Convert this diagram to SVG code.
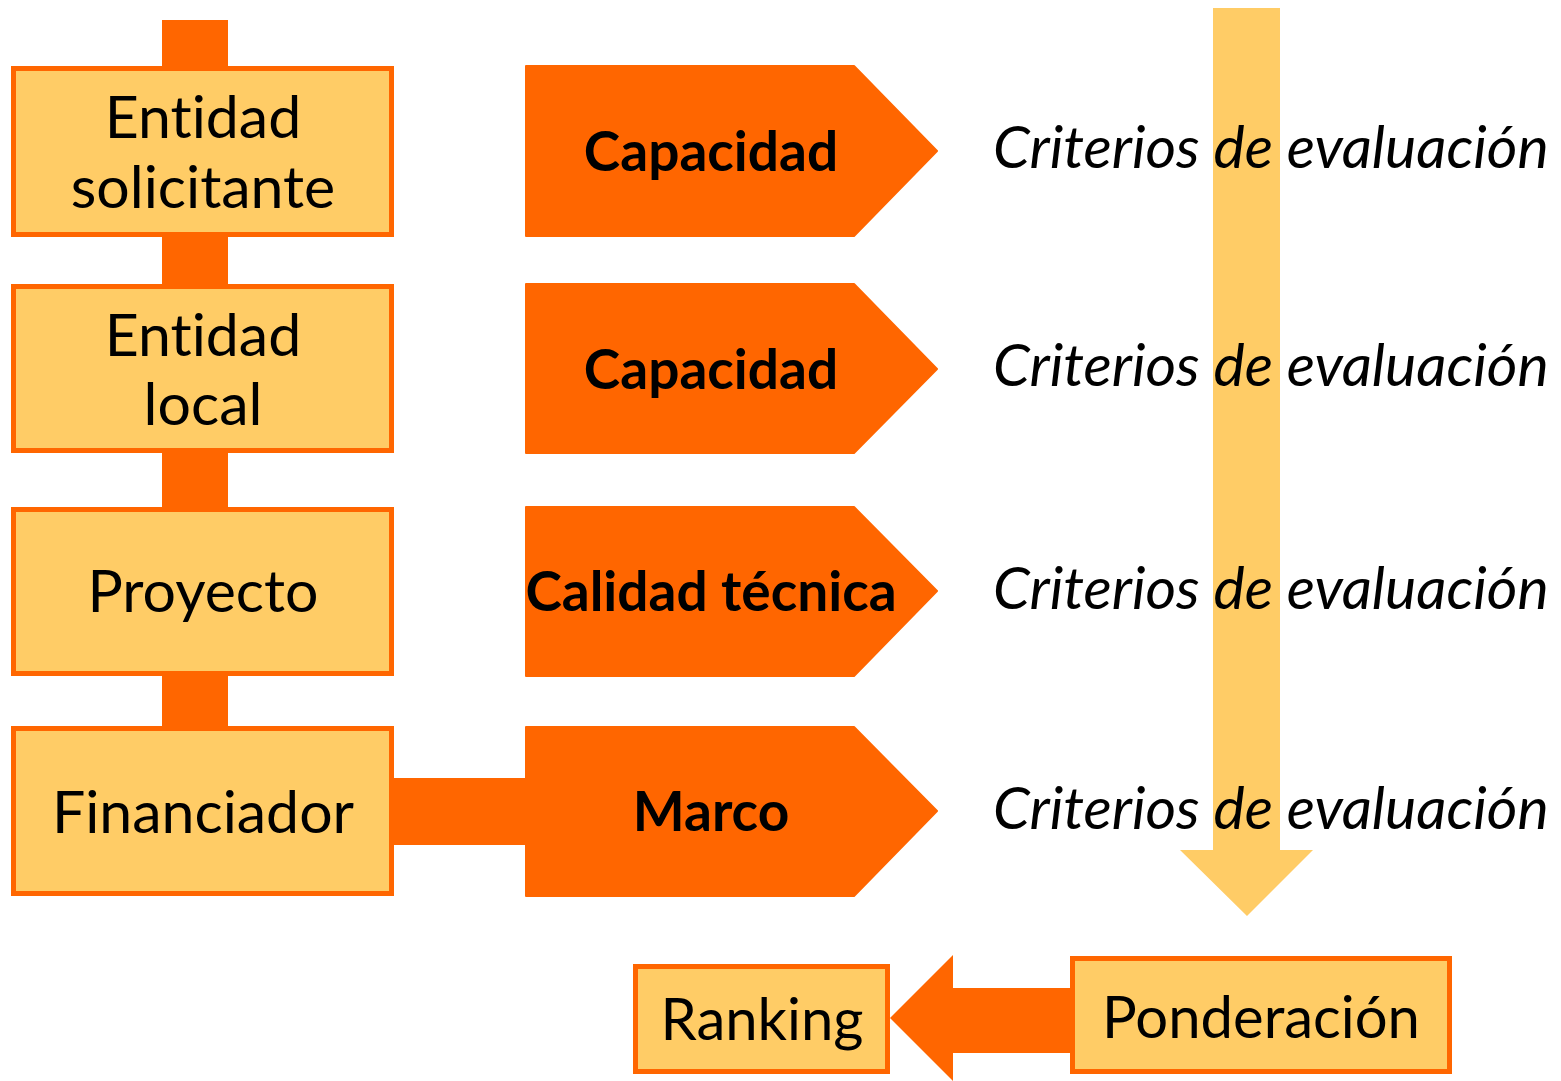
<svg xmlns="http://www.w3.org/2000/svg" width="1561" height="1081" viewBox="0 0 1561 1081">
<style>
text{font-variant-ligatures:none;font-feature-settings:"liga" 0,"clig" 0}
.box{fill:#FFCC66;stroke:#FF6600;stroke-width:5}
.bar{fill:#FF6600}
.pent{fill:#FF6600;stroke:#FF6600;stroke-width:2;stroke-linejoin:round}
.t{font-family:Lato,"Open Sans","DejaVu Sans",sans-serif;font-size:59px;fill:#000;text-anchor:middle}
.t2{font-family:Lato,"Open Sans","DejaVu Sans",sans-serif;font-size:58px;fill:#000;text-anchor:middle}
.b{font-family:Lato,"Open Sans","DejaVu Sans",sans-serif;font-size:55px;font-weight:bold;fill:#000;text-anchor:middle}
.i{font-family:Lato,"Open Sans","DejaVu Sans",sans-serif;font-size:59px;font-style:italic;fill:#000}
</style>
<rect width="1561" height="1081" fill="#fff"/>
<g id="connectors">
<rect class="bar" x="162" y="20" width="66" height="706"/>
<rect class="bar" x="392" y="778" width="136" height="67"/>
<polygon id="down-arrow" fill="#FFCC66" points="1213,8 1280,8 1280,850 1313,850 1247,916 1180,850 1213,850"/>
<polygon id="left-arrow" fill="#FF6600" points="1072,988 953,988 953,955 890,1018 953,1081 953,1053 1072,1053"/>
</g>
<g id="node-entidad-solicitante">
<rect class="box" x="13.5" y="68.5" width="378" height="166"/>
<text class="t" x="203" y="138">Entidad</text>
<text class="t" x="203" y="208">solicitante</text>
</g>
<g id="node-entidad-local">
<rect class="box" x="13.5" y="286.5" width="378" height="164"/>
<text class="t" x="203" y="356">Entidad</text>
<text class="t" x="203" y="425">local</text>
</g>
<g id="node-proyecto">
<rect class="box" x="13.5" y="509.5" width="378" height="164"/>
<text class="t" x="203" y="612">Proyecto</text>
</g>
<g id="node-financiador">
<rect class="box" x="13.5" y="728.5" width="378" height="165"/>
<text class="t" x="203" y="833">Financiador</text>
</g>
<g id="node-capacidad-1">
<polygon class="pent" points="526,66 854,66 937,151 854,236 526,236"/>
<text class="b" x="711" y="171">Capacidad</text>
</g>
<g id="node-capacidad-2">
<polygon class="pent" points="526,284 854,284 937,369 854,453 526,453"/>
<text class="b" x="711" y="389">Capacidad</text>
</g>
<g id="node-calidad">
<polygon class="pent" points="526,507 854,507 937,591 854,676 526,676"/>
<text class="b" x="711" y="611">Calidad técnica</text>
</g>
<g id="node-marco">
<polygon class="pent" points="526,727 854,727 937,811 854,896 526,896"/>
<text class="b" x="711" y="831">Marco</text>
</g>
<g id="criterios">
<text class="i" x="993" y="168">Criterios de evaluación</text>
<text class="i" x="993" y="386">Criterios de evaluación</text>
<text class="i" x="993" y="609">Criterios de evaluación</text>
<text class="i" x="993" y="829">Criterios de evaluación</text>
</g>
<g id="node-ponderacion">
<rect class="box" x="1072.5" y="958.5" width="377" height="113"/>
<text class="t2" x="1261" y="1038">Ponderación</text>
</g>
<g id="node-ranking">
<rect class="box" x="635.5" y="966.5" width="252" height="105"/>
<text class="t2" x="762" y="1040">Ranking</text>
</g>
</svg>
